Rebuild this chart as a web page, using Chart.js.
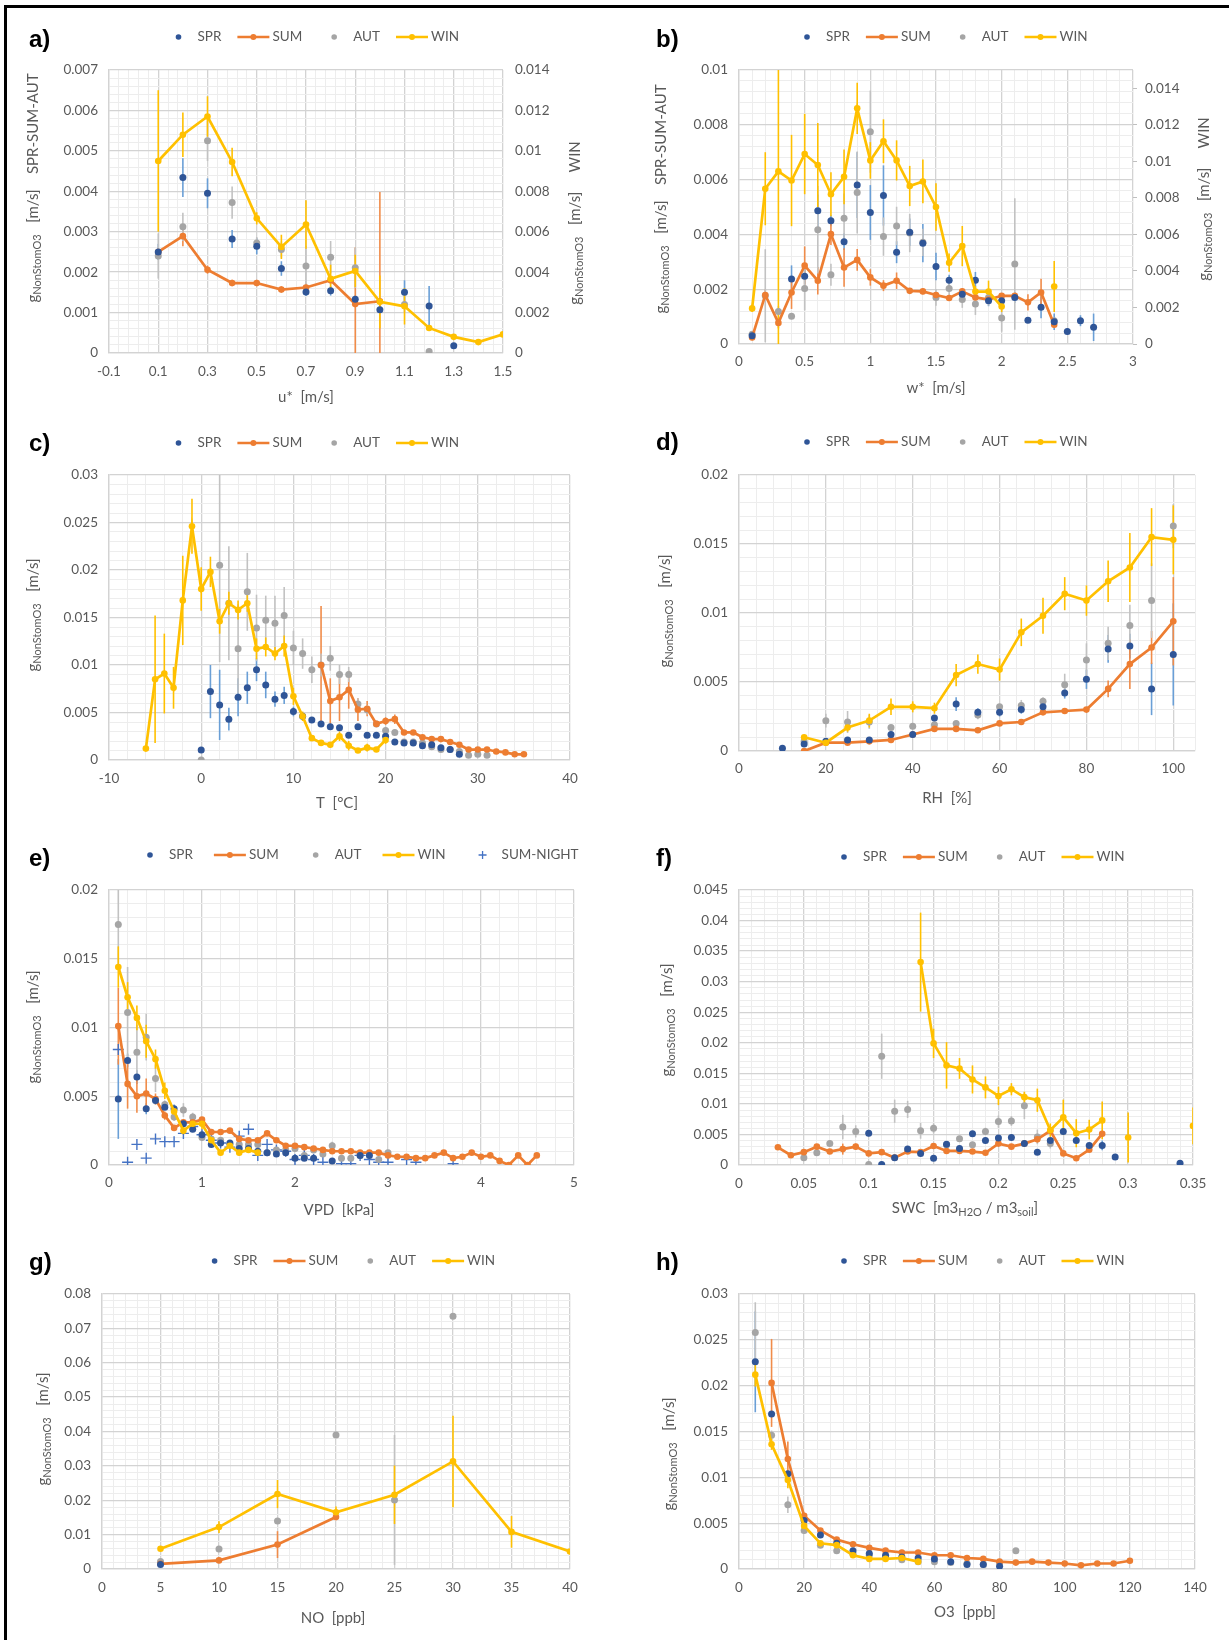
<!DOCTYPE html>
<html>
<head>
<meta charset="utf-8">
<script src="https://cdn.jsdelivr.net/npm/chart.js@4.4.0/dist/chart.umd.min.js"></script>
<style>
    body { margin: 0; background: #fff; }
    #page { position: relative; width: 1229px; height: 1640px; overflow: hidden; background: #fff; }
    #page canvas { position: absolute; }
    #frame { position: absolute; left: 4px; top: 5px; width: 1400px; height: 1800px;
             border-left: 3px solid #000; border-top: 3px solid #000; }
</style>
</head>
<body>
<div id="page"><div id="frame"></div></div>
<script>
// a) friction velocity u* [m/s]
const uStar = [0.1, 0.2, 0.3, 0.4, 0.5, 0.6, 0.7, 0.8, 0.9, 1.0, 1.1, 1.2, 1.3, 1.4, 1.5];
const aSpr = [0.0025, 0.00434, 0.00395, 0.00282, 0.00264, 0.00209, 0.00151, 0.00154, 0.00133, 0.00107, 0.0015, 0.00116, 0.00018, null, null];
const aSprErr = [0.0002, 0.00048, 0.00037, 0.00022, 0.0002, 0.00018, 0.0001, 0.00012, 0.0001, 0.00008, 0.0003, 0.0005, 0.00005, null, null];
const aSum = [0.0025, 0.00289, 0.00206, 0.00173, 0.00173, 0.00157, 0.00162, 0.0018, 0.00121, 0.00128, null, null, null, null, null];
const aSumErr = [0.0001, 0.00025, 0.0001, 0.00008, 0.00008, 0.00008, 0.0001, 0.0001, 0.0014, 0.0027, null, null, null, null, null];
const aAut = [0.0024, 0.00312, 0.00525, 0.00372, 0.00272, 0.00256, 0.00215, 0.00237, 0.00211, null, 0.0012, 0.00004, null, null, null];
const aAutErr = [0.00056, 0.00035, 0.0005, 0.0004, 0.00015, 0.0002, 0.0005, 0.0004, 0.0005, null, 0.0002, 0.00002, null, null, null];
const aWin = [0.0095, 0.0108, 0.0117, 0.00945, 0.00666, 0.00525, 0.00636, 0.00367, 0.00406, 0.00253, 0.00231, 0.00124, 0.0008, 0.00054, 0.00092];
const aWinErr = [0.0035, 0.0011, 0.001, 0.0007, 0.0003, 0.0006, 0.0012, 0.0007, 0.0008, 0.0013, 0.0009, 0.0001, 0.0001, 0.0001, null];

// b) convective velocity w* [m/s]
const wStar = [0.1, 0.2, 0.3, 0.4, 0.5, 0.6, 0.7, 0.8, 0.9, 1.0, 1.1, 1.2, 1.3, 1.4, 1.5, 1.6, 1.7, 1.8, 1.9, 2.0, 2.1, 2.2, 2.3, 2.4, 2.5, 2.6, 2.7];
const bSpr = [0.0003, null, null, 0.00237, 0.00247, 0.00486, 0.0045, 0.00373, 0.0058, 0.0048, 0.00542, 0.00335, 0.00408, 0.00368, 0.00283, 0.00233, 0.00182, 0.00233, 0.00158, 0.00158, 0.0017, 0.00087, 0.00134, 0.00081, 0.00046, 0.00085, 0.00061];
const bSprErr = [0.0001, null, null, 0.0005, 0.0003, 0.0006, 0.0002, 0.0003, 0.0012, 0.001, 0.0011, 0.0004, 0.0005, 0.0007, 0.0005, 0.0002, 0.0002, 0.0003, 0.0002, 0.0002, 0.0002, 0.0001, 0.0004, 0.0003, 0.0001, 0.0002, 0.0005];
const bSum = [0.00024, 0.00179, 0.00077, 0.00188, 0.00286, 0.00231, 0.00401, 0.00279, 0.00307, 0.00243, 0.00213, 0.00231, 0.00194, 0.00192, 0.00179, 0.00168, 0.00192, 0.0017, 0.00162, 0.00176, 0.00176, 0.00152, 0.00188, 0.0007, null, null, null];
const bSumErr = [0.0001, 0.0002, 0.0002, 0.0006, 0.0007, 0.0005, 0.0004, 0.0007, 0.0004, 0.0003, 0.0002, 0.0003, 0.0001, 0.0001, 0.0001, 0.0001, 0.0001, 0.0001, 0.0001, 0.0001, 0.0001, 0.0003, 0.0005, 0.0001, null, null, null];
const bAut = [0.00036, 0.00176, 0.00119, 0.00101, 0.00203, 0.00417, 0.00253, 0.00459, 0.00553, 0.00775, 0.00392, 0.00431, 0.00405, 0.00371, 0.0017, 0.00203, 0.00162, 0.00146, 0.0017, 0.00095, 0.00292, null, null, 0.00085, null, null, null];
const bAutErr = [0.0001, 0.0017, 0.0002, 0.0001, 0.0008, 0.0016, 0.0004, 0.0009, 0.0015, 0.0015, 0.0007, 0.0007, 0.0007, 0.0005, 0.0003, 0.0003, 0.0003, 0.0004, 0.0003, 0.0005, 0.0024, null, null, 0.0001, null, null, null];
const bWin = [0.00195, 0.0085, 0.00945, 0.00895, 0.0104, 0.0098, 0.0082, 0.00915, 0.0129, 0.01005, 0.0111, 0.01005, 0.00865, 0.0089, 0.0075, 0.00445, 0.00536, 0.00287, 0.00287, 0.00205, null, null, null, 0.00315, null, null, null];
const bWinErr = [0.0002, 0.002, 0.0095, 0.0025, 0.0022, 0.0023, 0.0012, 0.0015, 0.0014, 0.001, 0.0012, 0.0011, 0.0011, 0.0012, 0.0013, 0.0005, 0.0011, 0.0003, 0.0006, 0.0003, null, null, null, 0.0014, null, null, null];

// c) air temperature T [°C]
const temps = [-6, -5, -4, -3, -2, -1, 0, 1, 2, 3, 4, 5, 6, 7, 8, 9, 10, 11, 12, 13, 14, 15, 16, 17, 18, 19, 20, 21, 22, 23, 24, 25, 26, 27, 28, 29, 30, 31, 32, 33, 34, 35];
const cSpr = [null, null, null, null, null, null, 0.00105, 0.0072, 0.0058, 0.0043, 0.0066, 0.0076, 0.0095, 0.0079, 0.0064, 0.0068, 0.0051, 0.0046, 0.0042, 0.0038, 0.0035, 0.0034, 0.0026, 0.0035, 0.0026, 0.0026, 0.0025, 0.0019, 0.0018, 0.0018, 0.0015, 0.0016, 0.0013, 0.0011, 0.0006, null, null, null, null, null, null, null];
const cSprErr = [null, null, null, null, null, null, 0.0001, 0.0028, 0.0037, 0.0012, 0.002, 0.0017, 0.0012, 0.0014, 0.0008, 0.0009, 0.0005, 0.0003, 0.0002, 0.0002, 0.0002, 0.0002, 0.0002, 0.0003, 0.0002, 0.0002, 0.0002, 0.0002, 0.0001, 0.0001, 0.0001, 0.0002, 0.0001, 0.0001, 0.0001, null, null, null, null, null, null, null];
const cSum = [null, null, null, null, null, null, null, null, null, null, null, null, null, null, null, null, null, null, null, 0.01, 0.0062, 0.0066, 0.0074, 0.0053, 0.0054, 0.0038, 0.0041, 0.0043, 0.0029, 0.0029, 0.0024, 0.0022, 0.0022, 0.0019, 0.0016, 0.0011, 0.0011, 0.0011, 0.0009, 0.0008, 0.0006, 0.0006];
const cSumErr = [null, null, null, null, null, null, null, null, null, null, null, null, null, null, null, null, null, null, null, 0.0062, 0.0024, 0.0025, 0.002, 0.0012, 0.0008, 0.0003, 0.0004, 0.0005, 0.0002, 0.0002, 0.0002, 0.0002, 0.0002, 0.0002, 0.0002, 0.0001, 0.0001, 0.0001, 0.0001, 0.0001, 0.0001, 0.0001];
const cAut = [null, null, null, null, null, null, 0, null, 0.0205, 0.0165, 0.0117, 0.0177, 0.0139, 0.0147, 0.0144, 0.0152, 0.0118, 0.0112, 0.0095, 0.01, 0.0107, 0.009, 0.009, 0.0059, 0.0053, 0.0038, 0.0031, 0.0029, 0.0019, 0.0019, 0.0018, 0.0014, 0.0011, 0.0011, 0.0009, 0.0005, 0.0006, 0.0005, null, null, null, null];
const cAutErr = [null, null, null, null, null, null, 0, null, 0.0102, 0.006, 0.0047, 0.0041, 0.0035, 0.0026, 0.0029, 0.003, 0.0018, 0.0016, 0.0014, 0.0012, 0.0013, 0.001, 0.0008, 0.0006, 0.0005, 0.0003, 0.0003, 0.0002, 0.0002, 0.0002, 0.0002, 0.0001, 0.0001, 0.0001, 0.0001, 0.0001, 0.0001, 0.0001, null, null, null, null];
const cWin = [0.0012, 0.0085, 0.0091, 0.0076, 0.0168, 0.0246, 0.018, 0.0198, 0.0146, 0.0165, 0.0158, 0.0165, 0.0117, 0.0119, 0.0112, 0.012, 0.0067, 0.0046, 0.0023, 0.0018, 0.0016, 0.0025, 0.0015, 0.001, 0.0013, 0.0011, 0.0021, null, null, null, null, null, null, null, null, null, null, null, null, null, null, null];
const cWinErr = [0.0001, 0.0067, 0.0042, 0.0022, 0.0047, 0.0029, 0.0023, 0.0016, 0.0013, 0.0012, 0.001, 0.0009, 0.0011, 0.001, 0.0007, 0.0011, 0.0009, 0.0005, 0.0003, 0.0002, 0.0003, 0.0005, 0.0005, 0.0002, 0.0004, 0.0002, 0.0004, null, null, null, null, null, null, null, null, null, null, null, null, null, null, null];

// d) relative humidity RH [%]
const rh = [10, 15, 20, 25, 30, 35, 40, 45, 50, 55, 60, 65, 70, 75, 80, 85, 90, 95, 100];
const dSpr = [0.0002, 0.0005, 0.0007, 0.0008, 0.0008, 0.0012, 0.0012, 0.0024, 0.0034, 0.0028, 0.0028, 0.003, 0.0032, 0.0042, 0.0052, 0.0074, 0.0076, 0.0045, 0.007];
const dSprErr = [0, 0.0001, 0.0001, 0.0001, 0.0001, 0.0002, 0.0001, 0.0002, 0.0005, 0.0003, 0.0003, 0.0003, 0.0003, 0.0004, 0.0007, 0.001, 0.0009, 0.0019, 0.0037];
const dSum = [null, 0, 0.0006, 0.0006, 0.0007, 0.0008, 0.0012, 0.0016, 0.0016, 0.0015, 0.002, 0.0021, 0.0028, 0.0029, 0.003, 0.0045, 0.0063, 0.0075, 0.0094];
const dSumErr = [null, 0, 0.0001, 0.0001, 0.0001, 0.0001, 0.0001, 0.0001, 0.0001, 0.0001, 0.0001, 0.0001, 0.0001, 0.0001, 0.0001, 0.0006, 0.0018, 0.0012, 0.0032];
const dAut = [null, 0.0007, 0.0022, 0.0021, 0.0021, 0.0017, 0.0018, 0.0019, 0.002, 0.0026, 0.0032, 0.0033, 0.0036, 0.0048, 0.0066, 0.0078, 0.0091, 0.0109, 0.0163];
const dAutErr = [null, 0.0001, 0.0005, 0.0008, 0.0005, 0.0002, 0.0002, 0.0002, 0.0002, 0.0003, 0.0002, 0.0004, 0.0003, 0.0008, 0.0012, 0.0012, 0.0015, 0.0027, 0.0016];
const dWin = [null, 0.001, 0.0006, 0.0017, 0.0022, 0.0032, 0.0032, 0.0031, 0.0055, 0.0063, 0.0059, 0.0086, 0.0098, 0.0114, 0.0109, 0.0123, 0.0133, 0.0155, 0.0153];
const dWinErr = [null, 0.0001, 0.0001, 0.0003, 0.0005, 0.0006, 0.0004, 0.0004, 0.0008, 0.0007, 0.0008, 0.001, 0.0013, 0.0012, 0.0011, 0.0015, 0.0025, 0.0021, 0.0025];

// e) vapour pressure deficit VPD [kPa]
const vpd = [0.1, 0.2, 0.3, 0.4, 0.5, 0.6, 0.7, 0.8, 0.9, 1.0,
             1.1, 1.2, 1.3, 1.4, 1.5, 1.6, 1.7, 1.8, 1.9, 2.0,
             2.1, 2.2, 2.3, 2.4, 2.5, 2.6, 2.7, 2.8, 2.9, 3.0,
             3.1, 3.2, 3.3, 3.4, 3.5, 3.6, 3.7, 3.8, 3.9, 4.0,
             4.1, 4.2, 4.3, 4.4, 4.5, 4.6];
const eSpr = [0.0048, 0.0076, 0.0064, 0.0041, 0.0047, 0.0042, 0.0041, 0.003, 0.0026, 0.0022,
              0.0015, 0.0016, 0.0016, 0.0012, 0.0012, 0.001, 0.0009, 0.0008, 0.0009, 0.0005,
              0.0005, 0.0005, null, 0.0003, null, null, 0.0007, 0.0007, null, null,
              null, null, null, null, null, null, null, null, null, null,
              null, null, null, null, null, null];
const eSprErr = [0.0029, 0.0005, 0.0005, 0.0004, 0.0003, 0.0002, 0.0003, 0.0002, 0.0002, 0.0002,
                 0.0002, 0.0001, 0.0001, 0.0001, 0.0001, 0.0001, 0.0001, 0.0001, 0.0001, 0.0001,
                 0.0001, 0.0001, null, 0.0001, null, null, 0.0001, 0.0001, null, null,
                 null, null, null, null, null, null, null, null, null, null,
                 null, null, null, null, null, null];
const eSum = [0.0101, 0.0059, 0.005, 0.0052, 0.0048, 0.0036, 0.0027, 0.0031, 0.0031, 0.0033,
              0.0024, 0.0024, 0.0025, 0.0019, 0.0018, 0.0018, 0.0023, 0.0018, 0.0014, 0.0014,
              0.0013, 0.0012, 0.0011, 0.001, 0.001, 0.001, 0.0009, 0.0009, 0.0009, 0.0007,
              0.0006, 0.0006, 0.0005, 0.0005, 0.0007, 0.0009, 0.0005, 0.0006, 0.0009, 0.0006,
              0.0007, 0.0003, 0.0000, 0.0007, 0.0000, 0.0007];
const eSumErr = [0.0028, 0.0018, 0.0012, 0.0011, 0.0004, 0.0003, 0.0002, 0.0002, 0.0002, 0.0002,
                 0.0001, 0.0001, 0.0001, 0.0001, 0.0001, 0.0001, 0.0001, 0.0001, 0.0001, 0.0001,
                 0.0001, 0.0001, 0.0001, 0.0001, 0.0001, 0.0001, 0.0001, 0.0001, 0.0001, 0.0001,
                 0.0001, 0.0001, 0.0001, 0.0001, 0.0001, 0.0001, 0.0001, 0.0001, 0.0001, 0.0001,
                 0.0001, 0.0001, 0.0001, 0.0001, 0.0001, 0.0001];
const eAut = [0.0175, 0.0111, 0.0082, 0.0093, 0.0063, 0.0044, 0.0035, 0.004, 0.0035, 0.002,
              0.0019, 0.0018, 0.0015, 0.0015, 0.0015, 0.0015, 0.0009, 0.0011, 0.0011, 0.0012,
              0.0007, 0.0011, 0.0008, 0.0014, 0.0005, 0.0005, 0.0007, null, 0.0004, 0.0009,
              null, null, null, null, null, null, null, null, null, null,
              null, null, null, null, null, null];
const eAutErr = [0.0033, 0.0033, 0.002, 0.0017, 0.001, 0.0003, 0.0003, 0.0005, 0.0003, 0.0002,
                 0.0002, 0.0002, 0.0002, 0.0002, 0.0002, 0.0002, 0.0001, 0.0001, 0.0001, 0.0001,
                 0.0001, 0.0001, 0.0001, 0.0003, 0.0001, 0.0001, 0.0001, null, 0.0001, 0.0001,
                 null, null, null, null, null, null, null, null, null, null,
                 null, null, null, null, null, null];
const eWin = [0.0144, 0.0122, 0.0107, 0.009, 0.0077, 0.0054, 0.0039, 0.0025, 0.003, 0.003,
              0.0018, 0.0009, 0.0014, 0.0009, 0.0011, 0.0009, null, null, null, null,
              null, null, null, null, null, null, null, null, null, null,
              null, null, null, null, null, null, null, null, null, null,
              null, null, null, null, null, null];
const eWinErr = [0.0015, 0.0011, 0.0009, 0.0012, 0.0007, 0.0006, 0.0004, 0.0003, 0.0002, 0.0004,
                 0.0002, 0.0002, 0.0002, 0.0002, 0.0002, 0.0002, null, null, null, null,
                 null, null, null, null, null, null, null, null, null, null,
                 null, null, null, null, null, null, null, null, null, null,
                 null, null, null, null, null, null];
const eNight = [0.0084, 0.0002, 0.0015, 0.0005, 0.0019, 0.0017, 0.0017, 0.0023, 0.0028, 0.0022,
                0.0018, 0.0016, 0.0013, 0.0021, 0.0026, 0.0007, 0.0015, 0.0011, 0.001, 0.0004,
                0.0007, 0.0004, 0.0002, null, 0.0001, 0.0001, 0.0007, 0.0004, 0.0002, 0.0002,
                null, 0.0004, 0.0002, null, null, null, 0.0001, null, null, null,
                null, null, null, null, null, null];

// f) soil water content SWC
const swc = [0.03, 0.04, 0.05, 0.06, 0.07, 0.08, 0.09, 0.10, 0.11, 0.12, 0.13, 0.14, 0.15, 0.16, 0.17, 0.18, 0.19,
             0.20, 0.21, 0.22, 0.23, 0.24, 0.25, 0.26, 0.27, 0.28, 0.29, 0.30, 0.31, 0.32, 0.33, 0.34, 0.35];
const fSpr = [null, null, null, null, null, null, null, 0.0052, 0.0001, 0.0012, 0.0026, 0.0019, 0.0011, 0.0034, 0.0027, 0.0051, 0.004,
              0.0044, 0.0045, 0.0035, 0.0021, 0.004, 0.0055, 0.004, 0.0032, 0.0032, 0.0013, null, null, null, null, 0.0003, null];
const fSprErr = [null, null, null, null, null, null, null, 0.0005, 0.0001, 0.0002, 0.0002, 0.0002, 0.0002, 0.0002, 0.0002, 0.0003, 0.0002,
                 0.0002, 0.0002, 0.0002, 0.0002, 0.0002, 0.0005, 0.0002, 0.0003, 0.0008, 0.0001, null, null, null, null, 0.0001, null];
const fSum = [0.0029, 0.0016, 0.0021, 0.003, 0.0022, 0.0026, 0.003, 0.0019, 0.0021, 0.0012, 0.0022, 0.0021, 0.0031, 0.0023, 0.0023, 0.0022, 0.002,
              0.0035, 0.003, 0.0035, 0.0042, 0.0056, 0.0019, 0.0011, 0.0025, 0.0051, null, null, null, null, null, null, null];
const fSumErr = [0.0002, 0.0002, 0.0002, 0.0002, 0.0002, 0.0009, 0.0005, 0.0002, 0.0002, 0.0002, 0.0002, 0.0002, 0.0002, 0.0002, 0.0002, 0.0002, 0.0002,
                 0.0002, 0.0002, 0.0002, 0.0002, 0.0003, 0.0002, 0.0002, 0.0002, 0.0004, null, null, null, null, null, null, null];
const fAut = [null, null, 0.0012, 0.002, 0.0035, 0.0062, 0.0055, 0.0001, 0.0178, 0.0088, 0.0091, 0.0056, 0.006, 0.0033, 0.0043, 0.0033, 0.0055,
              0.0071, 0.0072, 0.0097, 0.0046, 0.0035, null, null, null, null, null, null, null, null, null, null, null];
const fAutErr = [null, null, 0.0002, 0.0002, 0.0005, 0.002, 0.001, 0.0001, 0.0037, 0.0019, 0.0014, 0.0013, 0.0008, 0.0004, 0.0004, 0.0002, 0.0006,
                 0.001, 0.0008, 0.0022, 0.0012, 0.0008, null, null, null, null, null, null, null, null, null, null, null];
const fWin = [null, null, null, null, null, null, null, null, null, null, null, 0.0332, 0.0199, 0.0163, 0.0158, 0.014, 0.0127,
              0.0113, 0.0124, 0.0111, 0.0106, 0.0057, 0.0078, 0.0052, 0.0058, 0.0073, null, 0.0045, null, null, null, null, 0.0064];
const fWinErr = [null, null, null, null, null, null, null, null, null, null, null, 0.0081, 0.0024, 0.0038, 0.0017, 0.0023, 0.0018,
                 0.0015, 0.001, 0.0009, 0.0019, 0.0011, 0.0029, 0.0023, 0.0016, 0.0031, null, 0.0041, null, null, null, null, 0.003];

// g) nitric oxide NO [ppb]
const no = [5, 10, 15, 20, 25, 30, 35, 40];
const gSpr = [0.0013, null, null, null, null, null, null, null];
const gSprErr = [0.0002, null, null, null, null, null, null, null];
const gSum = [0.0015, 0.0025, 0.0071, 0.0151, null, null, null, null];
const gSumErr = [0.0002, 0.0003, 0.0039, 0.0005, null, null, null, null];
const gAut = [0.0022, 0.0058, 0.014, 0.039, 0.0201, 0.0735, null, null];
const gAutErr = [0.0005, 0.0003, 0.0003, 0.0003, 0.0189, 0.0003, null, null];
const gWin = [0.0059, 0.0122, 0.0218, 0.0165, 0.0216, 0.0313, 0.0108, 0.0051];
const gWinErr = [0.0003, 0.0017, 0.0041, 0.0017, 0.0085, 0.0133, 0.0046, null];

// h) ozone O3 [ppb]
const o3 = [5, 10, 15, 20, 25, 30, 35, 40, 45, 50, 55, 60, 65, 70, 75, 80, 85, 90, 95, 100, 105, 110, 115, 120];
const hSpr = [0.0226, 0.0169, 0.0104, 0.0053, 0.0037, 0.0028, 0.002, 0.0017, 0.0015, 0.0013, 0.0012, 0.0011, 0.0008, 0.0005, 0.0005, 0.0003, null, null, null, null, null, null, null, null];
const hSprErr = [0.0055, 0.0003, 0.0003, 0.0002, 0.0002, 0.0002, 0.0001, 0.0001, 0.0001, 0.0001, 0.0001, 0.0001, 0.0001, 0.0001, 0.0001, 0.0001, null, null, null, null, null, null, null, null];
const hSum = [null, 0.0203, 0.012, 0.0058, 0.0042, 0.0032, 0.0027, 0.0023, 0.002, 0.0018, 0.0018, 0.0015, 0.0015, 0.0012, 0.0011, 0.0008, 0.0007, 0.0008, 0.0007, 0.0006, 0.0004, 0.0006, 0.0006, 0.0009];
const hSumErr = [null, 0.0048, 0.0019, 0.0002, 0.0001, 0.0001, 0.0001, 0.0001, 0.0001, 0.0001, 0.0001, 0.0001, 0.0001, 0.0001, 0.0001, 0.0001, 0.0001, 0.0001, 0.0001, 0.0001, 0.0001, 0.0001, 0.0001, 0.0001];
const hAut = [0.0258, 0.0146, 0.007, 0.0042, 0.0026, 0.002, 0.0016, 0.0015, 0.0013, 0.001, 0.0008, 0.0008, 0.0007, 0.0006, 0.0005, 0.0007, 0.002, null, null, null, null, null, null, null];
const hAutErr = [0.0033, 0.0005, 0.0009, 0.0002, 0.0001, 0.0001, 0.0001, 0.0001, 0.0001, 0.0001, 0.0001, 0.0001, 0.0001, 0.0001, 0.0001, 0.0001, 0.0003, null, null, null, null, null, null, null];
const hWin = [0.0212, 0.0136, 0.0097, 0.0047, 0.0028, 0.0026, 0.0015, 0.0011, 0.0011, 0.0012, 0.0008, null, null, null, null, null, null, null, null, null, null, null, null, null];
const hWinErr = [0.0013, 0.0006, 0.0009, 0.0003, 0.0002, 0.0002, 0.0001, 0.0001, 0.0001, 0.0001, 0.0001, null, null, null, null, null, null, null, null, null, null, null, null, null];


const FONT = 'Lato, "Open Sans", sans-serif';
const TEXT = '#595959';

// how each season is drawn
const STYLE = {
    'SPR': { kind: 'dot', color: '#2f5597', err: '#6a9fd6', order: 1 },
    'SUM': { kind: 'line', color: '#ed7d31', err: '#f08c4a', order: 2 },
    'AUT': { kind: 'dot', color: '#a5a5a5', err: '#c2c2c2', order: 3 },
    'WIN': { kind: 'line', color: '#ffc000', err: '#ffc000', order: 0 },
    'SUM-NIGHT': { kind: 'plus', color: '#4472c4', order: 4 }
};

function fmt(v) {
    return String(parseFloat(v.toFixed(6)));
}

function makeDataset([name, xs, ys, errs, axis]) {
    const s = STYLE[name];
    const ds = {
        label: name,
        data: xs.map((x, i) => ({ x: x, y: ys[i] })),
        yAxisID: axis || 'y',
        order: s.order,
        errors: errs,
        errorColor: s.err,
        borderColor: s.color,
        backgroundColor: s.color,
        pointBackgroundColor: s.color,
        pointBorderColor: s.color,
        pointHoverRadius: 0
    };
    if (s.kind === 'line') {
        Object.assign(ds, { showLine: true, borderWidth: 2.7, pointRadius: 3.3, pointBorderWidth: 0, spanGaps: false });
    } else if (s.kind === 'dot') {
        Object.assign(ds, { showLine: false, pointRadius: 3.5, pointBorderWidth: 0 });
    } else {
        Object.assign(ds, { showLine: false, pointStyle: 'cross', pointRadius: 5.5, pointBorderWidth: 1.4 });
    }
    return ds;
}

// linear axis with light minor grid and darker major grid
function gridAxis(a, fit, extra) {
    const k = Math.round(a.major / a.minor);
    return Object.assign({
        type: 'linear',
        min: a.min,
        max: a.max,
        ticks: {
            stepSize: a.minor,
            autoSkip: false,
            maxRotation: 0,
            minRotation: 0,
            padding: a.pad || 11,
            color: TEXT,
            font: { family: FONT, size: 13.5 },
            callback: (v, i) => (i % k === 0 ? fmt(v) : '')
        },
        grid: {
            drawTicks: false,
            color: c => (c.index % k === 0 ? '#d3d3d3' : '#ededed'),
            lineWidth: c => (c.index % k === 0 ? 1.3 : 1)
        },
        border: { color: '#d3d3d3', width: 1.3 },
        afterFit: fit
    }, extra || {});
}

// text with optional subscript runs, centred on (cx, cy)
function drawRich(ctx, segs, cx, cy, rotate) {
    ctx.save();
    ctx.translate(cx, cy);
    if (rotate) ctx.rotate(-Math.PI / 2);
    const parts = segs.map(([t, sub]) => {
        const font = sub ? `11px ${FONT}` : `15px ${FONT}`;
        ctx.font = font;
        return { t, font, w: ctx.measureText(t).width, dy: sub ? 4.5 : 0 };
    });
    let x = -parts.reduce((acc, p) => acc + p.w, 0) / 2;
    ctx.fillStyle = TEXT;
    ctx.textAlign = 'left';
    ctx.textBaseline = 'middle';
    parts.forEach(p => {
        ctx.font = p.font;
        ctx.fillText(p.t, x, p.dy);
        x += p.w;
    });
    ctx.restore();
}

function drawLegend(ctx, datasets, x, cy, sep) {
    const SYM = 32, GAP = 3;
    ctx.save();
    ctx.font = `13.5px ${FONT}`;
    datasets.forEach(d => {
        const s = STYLE[d.label];
        const mx = x + SYM / 2;
        ctx.fillStyle = s.color;
        ctx.strokeStyle = s.color;
        if (s.kind === 'line') {
            ctx.lineWidth = 2.7;
            ctx.beginPath();
            ctx.moveTo(x, cy);
            ctx.lineTo(x + SYM, cy);
            ctx.stroke();
            ctx.beginPath();
            ctx.arc(mx, cy, 3, 0, Math.PI * 2);
            ctx.fill();
        } else if (s.kind === 'dot') {
            ctx.beginPath();
            ctx.arc(mx, cy, 2.8, 0, Math.PI * 2);
            ctx.fill();
        } else {
            ctx.lineWidth = 1.3;
            ctx.beginPath();
            ctx.moveTo(mx - 4, cy);
            ctx.lineTo(mx + 4, cy);
            ctx.moveTo(mx, cy - 4);
            ctx.lineTo(mx, cy + 4);
            ctx.stroke();
        }
        ctx.fillStyle = TEXT;
        ctx.textAlign = 'left';
        ctx.textBaseline = 'middle';
        ctx.fillText(d.label, x + SYM + GAP, cy);
        x += SYM + GAP + ctx.measureText(d.label).width + sep;
    });
    ctx.restore();
}

// vertical error bars, drawn under the markers
const errorBars = {
    id: 'errorBars',
    beforeDatasetsDraw(chart) {
        const { ctx, chartArea: ca } = chart;
        const xs = chart.scales.x;
        ctx.save();
        ctx.beginPath();
        ctx.rect(ca.left, ca.top, ca.right - ca.left, ca.bottom - ca.top);
        ctx.clip();
        chart.data.datasets.forEach(ds => {
            if (!ds.errors) return;
            const ys = chart.scales[ds.yAxisID];
            ctx.strokeStyle = ds.errorColor;
            ctx.lineWidth = 1.6;
            ds.data.forEach((p, i) => {
                const e = ds.errors[i];
                if (p.y === null || !e) return;
                const px = xs.getPixelForValue(p.x);
                ctx.beginPath();
                ctx.moveTo(px, ys.getPixelForValue(p.y + e));
                ctx.lineTo(px, ys.getPixelForValue(p.y - e));
                ctx.stroke();
            });
        });
        ctx.restore();
    }
};

const G_TITLE = [['g', 0], ['NonStomO3', 1], ['   [m/s]', 0]];

function makePanel(p) {
    const [bx, by, bw, bh] = p.box;
    const [pl, pt, pr, pb] = p.plot;
    const canvas = document.createElement('canvas');
    canvas.width = bw;
    canvas.height = bh;
    canvas.style.left = bx + 'px';
    canvas.style.top = by + 'px';
    canvas.style.width = bw + 'px';
    canvas.style.height = bh + 'px';
    document.getElementById('page').appendChild(canvas);

    const scales = {
        x: gridAxis(p.x, s => { s.height = by + bh - pb; }),
        y: gridAxis(p.y, s => { s.width = pl - bx; }, { position: 'left' })
    };
    if (p.y1) {
        scales.y1 = {
            type: 'linear',
            position: 'right',
            min: p.y1.min,
            max: p.y1.max,
            ticks: {
                stepSize: p.y1.step,
                includeBounds: false,
                autoSkip: false,
                padding: p.y1.marks ? 8 : 12,
                color: TEXT,
                font: { family: FONT, size: 13.5 },
                callback: v => fmt(v)
            },
            grid: { drawOnChartArea: false, drawTicks: !!p.y1.marks, tickLength: 4, color: '#bfbfbf' },
            border: { display: false },
            afterFit: s => { s.width = bx + bw - pr; }
        };
    }

    const local = ([x, y]) => [x - bx, y - by];
    const deco = {
        id: 'deco',
        afterDraw(chart) {
            const ctx = chart.ctx;
            ctx.save();
            ctx.font = 'bold 24px "Liberation Sans", Arial, sans-serif';
            ctx.fillStyle = '#000';
            ctx.textAlign = 'left';
            ctx.textBaseline = 'middle';
            const [lx, ly] = local(p.letterAt);
            ctx.fillText(p.letter, lx, ly);
            ctx.restore();
            const [gx, gy] = local(p.legend);
            drawLegend(ctx, chart.data.datasets, gx, gy, p.legend[2] || 16);
            drawRich(ctx, p.xTitle, ...local(p.xTitleAt), false);
            drawRich(ctx, p.yTitle, ...local(p.yTitleAt), true);
            if (p.y1Title) drawRich(ctx, p.y1Title, ...local(p.y1TitleAt), true);
        }
    };

    new Chart(canvas, {
        type: 'scatter',
        data: { datasets: p.series.map(makeDataset) },
        options: {
            responsive: false,
            animation: false,
            devicePixelRatio: 1,
            events: [],
            layout: { padding: { top: pt - by, left: 0, bottom: 0, right: p.y1 ? 0 : bx + bw - pr } },
            scales: scales,
            plugins: { legend: { display: false }, tooltip: { enabled: false } }
        },
        plugins: [errorBars, deco]
    });
}

makePanel({
    letter: 'a)', box: [0, 0, 614, 412], plot: [109, 70, 503, 353],
    letterAt: [29, 40], legend: [162.5, 37, 16],
    x: { min: -0.1, max: 1.5, major: 0.2, minor: 0.04 },
    y: { min: 0, max: 0.007, major: 0.001, minor: 0.0002 },
    y1: { min: 0, max: 0.014, step: 0.002, marks: false },
    xTitle: [['u*  [m/s]', 0]], xTitleAt: [306, 397],
    yTitle: G_TITLE.concat([['    SPR-SUM-AUT', 0]]), yTitleAt: [33, 188],
    y1Title: G_TITLE.concat([['     WIN', 0]]), y1TitleAt: [575, 223],
    series: [
        ['SPR', uStar, aSpr, aSprErr],
        ['SUM', uStar, aSum, aSumErr],
        ['AUT', uStar, aAut, aAutErr],
        ['WIN', uStar, aWin, aWinErr, 'y1']
    ]
});

makePanel({
    letter: 'b)', box: [614, 0, 615, 412], plot: [739, 70, 1133, 344],
    letterAt: [656, 40], legend: [791, 37, 16],
    x: { min: 0, max: 3, major: 0.5, minor: 0.1, pad: 10 },
    y: { min: 0, max: 0.01, major: 0.002, minor: 0.0004 },
    y1: { min: 0, max: 0.015, step: 0.002, marks: true },
    xTitle: [['w*  [m/s]', 0]], xTitleAt: [936, 388],
    yTitle: G_TITLE.concat([['    SPR-SUM-AUT', 0]]), yTitleAt: [661, 199],
    y1Title: G_TITLE.concat([['     WIN', 0]]), y1TitleAt: [1204, 199],
    series: [
        ['SPR', wStar, bSpr, bSprErr],
        ['SUM', wStar, bSum, bSumErr],
        ['AUT', wStar, bAut, bAutErr],
        ['WIN', wStar, bWin, bWinErr, 'y1']
    ]
});

makePanel({
    letter: 'c)', box: [0, 412, 614, 416], plot: [109, 475, 570, 760],
    letterAt: [29, 444], legend: [162.5, 443, 16],
    x: { min: -10, max: 40, major: 10, minor: 2 },
    y: { min: 0, max: 0.03, major: 0.005, minor: 0.001 },
    xTitle: [['T  [°C]', 0]], xTitleAt: [337, 803],
    yTitle: G_TITLE, yTitleAt: [33, 615],
    series: [
        ['SPR', temps, cSpr, cSprErr],
        ['SUM', temps, cSum, cSumErr],
        ['AUT', temps, cAut, cAutErr],
        ['WIN', temps, cWin, cWinErr]
    ]
});

makePanel({
    letter: 'd)', box: [614, 412, 615, 416], plot: [739, 475, 1195, 751],
    letterAt: [656, 443], legend: [791, 442, 16],
    x: { min: 0, max: 105, major: 20, minor: 4, pad: 10 },
    y: { min: 0, max: 0.02, major: 0.005, minor: 0.001 },
    xTitle: [['RH  [%]', 0]], xTitleAt: [947, 798],
    yTitle: G_TITLE, yTitleAt: [665, 611],
    series: [
        ['SPR', rh, dSpr, dSprErr],
        ['SUM', rh, dSum, dSumErr],
        ['AUT', rh, dAut, dAutErr],
        ['WIN', rh, dWin, dWinErr]
    ]
});

makePanel({
    letter: 'e)', box: [0, 828, 614, 404], plot: [109, 890, 574, 1165],
    letterAt: [29, 859], legend: [134, 855, 21],
    x: { min: 0, max: 5, major: 1, minor: 0.2, pad: 10 },
    y: { min: 0, max: 0.02, major: 0.005, minor: 0.001 },
    xTitle: [['VPD  [kPa]', 0]], xTitleAt: [339, 1210],
    yTitle: G_TITLE, yTitleAt: [33, 1027],
    series: [
        ['SPR', vpd, eSpr, eSprErr],
        ['SUM', vpd, eSum, eSumErr],
        ['AUT', vpd, eAut, eAutErr],
        ['WIN', vpd, eWin, eWinErr],
        ['SUM-NIGHT', vpd, eNight, null]
    ]
});

makePanel({
    letter: 'f)', box: [614, 828, 615, 404], plot: [739, 890, 1193, 1165],
    letterAt: [656, 859], legend: [828, 857, 16],
    x: { min: 0, max: 0.35, major: 0.05, minor: 0.01 },
    y: { min: 0, max: 0.045, major: 0.005, minor: 0.001 },
    xTitle: [['SWC  [m3', 0], ['H2O', 1], [' / m3', 0], ['soil', 1], [']', 0]], xTitleAt: [965, 1208],
    yTitle: G_TITLE, yTitleAt: [667, 1020],
    series: [
        ['SPR', swc, fSpr, fSprErr],
        ['SUM', swc, fSum, fSumErr],
        ['AUT', swc, fAut, fAutErr],
        ['WIN', swc, fWin, fWinErr]
    ]
});

makePanel({
    letter: 'g)', box: [0, 1232, 614, 408], plot: [102, 1294, 570, 1569],
    letterAt: [29, 1263], legend: [198.6, 1261, 16],
    x: { min: 0, max: 40, major: 5, minor: 1 },
    y: { min: 0, max: 0.08, major: 0.01, minor: 0.002 },
    xTitle: [['NO  [ppb]', 0]], xTitleAt: [333, 1618],
    yTitle: G_TITLE, yTitleAt: [43, 1429],
    series: [
        ['SPR', no, gSpr, gSprErr],
        ['SUM', no, gSum, gSumErr],
        ['AUT', no, gAut, gAutErr],
        ['WIN', no, gWin, gWinErr]
    ]
});

makePanel({
    letter: 'h)', box: [614, 1232, 615, 408], plot: [739, 1294, 1195, 1569],
    letterAt: [656, 1263], legend: [828, 1261, 16],
    x: { min: 0, max: 140, major: 20, minor: 4 },
    y: { min: 0, max: 0.03, major: 0.005, minor: 0.001 },
    xTitle: [['O3  [ppb]', 0]], xTitleAt: [965, 1612],
    yTitle: G_TITLE, yTitleAt: [669, 1454],
    series: [
        ['SPR', o3, hSpr, hSprErr],
        ['SUM', o3, hSum, hSumErr],
        ['AUT', o3, hAut, hAutErr],
        ['WIN', o3, hWin, hWinErr]
    ]
});
</script>
</body>
</html>
